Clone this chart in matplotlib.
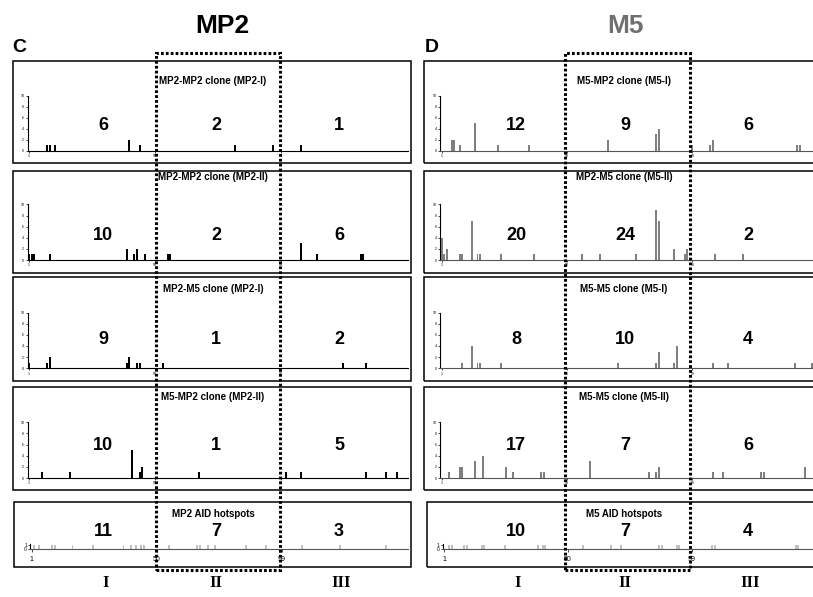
import matplotlib.pyplot as plt
from matplotlib.patches import Rectangle

W, H = 813, 597

# mutation positions (codon) and counts
mp2_i_pos = [8, 9, 11, 40, 44, 81, 96, 107]
mp2_i_cnt = [1, 1, 1, 2, 1, 1, 1, 1]
mp2_ii_pos = [1, 2, 3, 9, 39, 42, 43, 46, 55, 56, 107, 113, 130, 131]
mp2_ii_cnt = [1, 1, 1, 1, 2, 1, 2, 1, 1, 1, 3, 1, 1, 1]
mp2m5_i_pos = [1, 8, 9, 39, 40, 43, 44, 53, 123, 132]
mp2m5_i_cnt = [1, 1, 2, 1, 2, 1, 1, 1, 1, 1]
m5mp2_ii_pos = [6, 17, 41, 44, 45, 67, 101, 107, 132, 140, 144]
m5mp2_ii_cnt = [1, 1, 5, 1, 2, 1, 1, 1, 1, 1, 1]
mp2_hot = [2, 4, 9, 10, 17, 25, 37, 40, 42, 44, 45, 55, 66, 67, 70, 73, 85, 93, 107, 122, 140]

m5_i_pos = [5, 6, 8, 14, 23, 35, 66, 85, 86, 99, 106, 107, 140, 141]
m5_i_cnt = [2, 2, 1, 5, 1, 1, 2, 3, 4, 1, 1, 2, 1, 1]
m5_ii_pos = [1, 2, 3, 8, 9, 13, 15, 16, 24, 37, 56, 63, 77, 85, 86, 92, 96, 97, 108, 119]
m5_ii_cnt = [4, 1, 2, 1, 1, 7, 1, 1, 1, 1, 1, 1, 1, 9, 7, 2, 1, 2, 1, 1]
m5m5_i_pos = [9, 13, 15, 16, 24, 70, 85, 86, 92, 93, 107, 113, 139, 146]
m5m5_i_cnt = [1, 4, 1, 1, 1, 1, 1, 3, 1, 4, 1, 1, 1, 1]
m5m5_ii_pos = [4, 8, 9, 14, 17, 26, 29, 40, 41, 59, 82, 85, 86, 107, 111, 126, 127, 143]
m5m5_ii_cnt = [1, 2, 2, 3, 4, 2, 1, 1, 1, 3, 1, 1, 2, 1, 1, 1, 1, 2]
m5_hot = [3, 4, 9, 10, 16, 17, 25, 38, 40, 41, 56, 67, 71, 86, 87, 93, 94, 107, 108, 140, 141]

# mutation totals per region I / II / III
mp2_totals = [[6, 2, 1], [10, 2, 6], [9, 1, 2], [10, 1, 5], [11, 7, 3]]
m5_totals = [[12, 9, 6], [20, 24, 2], [8, 10, 4], [17, 7, 6], [10, 7, 4]]

mp2_titles = ["MP2-MP2 clone (MP2-I)", "MP2-MP2 clone (MP2-II)", "MP2-M5 clone (MP2-I)",
              "M5-MP2 clone (MP2-II)", "MP2 AID hotspots"]
m5_titles = ["M5-MP2 clone (M5-I)", "MP2-M5 clone (M5-II)", "M5-M5 clone (M5-I)",
             "M5-M5 clone (M5-II)", "M5 AID hotspots"]
regions = ["I", "II", "III"]

plt.rcParams['font.family'] = ['Liberation Sans', 'DejaVu Sans']
fig = plt.figure(figsize=(W / 100, H / 100), dpi=100)


def fx(x):
    return x / W


def fy(y):
    return 1 - y / H


def box(x0, y0, x1, y1, **kw):
    fig.add_artist(Rectangle((fx(x0), fy(y1)), fx(x1) - fx(x0), fy(y0) - fy(y1),
                             transform=fig.transFigure, fill=False, **kw))


def panel(x1, scale, base, top, pos, cnt, color, axcol, hot=False):
    ax = fig.add_axes([fx(x1 - 0.5 * scale), fy(base), 148 * scale / W, (base - top) / H])
    ax.bar(pos, cnt, width=0.78, color=color, linewidth=0)
    ax.set_xlim(0.5, 148.5)
    for s in ['top', 'right']:
        ax.spines[s].set_visible(False)
    ax.spines['left'].set_linewidth(0.8)
    ax.spines['bottom'].set_linewidth(0.8)
    ax.spines['bottom'].set_color(axcol)
    ax.set_xticks([1, 50, 99])
    ax.patch.set_alpha(0)
    if hot:
        ax.set_ylim(0, 1.15)
        ax.set_yticks([0, 1])
        ax.tick_params(axis='x', labelsize=5, length=2, width=0.5, pad=3)
        ax.tick_params(axis='y', labelsize=3.5, length=1.5, width=0.5, pad=1)
    else:
        ax.set_ylim(0, 10)
        ax.set_yticks([0, 2, 4, 6, 8, 10])
        ax.tick_params(labelsize=2.5, length=1.5, width=0.5, pad=1)
    return ax


# panel geometry in pixels: box top/bottom, axis top/baseline, title y, number y
rows = [
    dict(box=(61, 163), top=95.5, base=151, ty=81, ny=125),
    dict(box=(170.5, 273), top=204.5, base=260, ty=177.5, ny=235),
    dict(box=(277, 380.5), top=312.5, base=368.3, ty=288.5, ny=340),
    dict(box=(387, 489.5), top=422.3, base=478, ty=397, ny=446),
    dict(box=(502, 567), top=544, base=549, ty=514, ny=532),
]

left_data = [(mp2_i_pos, mp2_i_cnt), (mp2_ii_pos, mp2_ii_cnt), (mp2m5_i_pos, mp2m5_i_cnt),
             (m5mp2_ii_pos, m5mp2_ii_cnt), (mp2_hot, [1] * len(mp2_hot))]
right_data = [(m5_i_pos, m5_i_cnt), (m5_ii_pos, m5_ii_cnt), (m5m5_i_pos, m5m5_i_cnt),
              (m5m5_ii_pos, m5m5_ii_cnt), (m5_hot, [1] * len(m5_hot))]

for i, r in enumerate(rows):
    hot = i == 4
    y0, y1 = r['box']
    # MP2 column
    box(12.5 if not hot else 14, y0, 411, y1, linewidth=1.1, edgecolor='black')
    x1 = 31.7 if hot else 29
    sc = 2.55 if hot else 2.57
    panel(x1, sc, r['base'], r['top'], left_data[i][0], left_data[i][1],
          '#c0c0c0' if hot else 'black', '#555555' if hot else 'black', hot)
    fig.text(fx(213), fy(r['ty']), mp2_titles[i], ha='center', va='center',
             fontsize=7, fontweight='bold')
    for n, xx in zip(mp2_totals[i], [103, 216, 339]):
        fig.text(fx(xx), fy(r['ny']), str(n), ha='center', va='center',
                 fontsize=13, fontweight='bold')
    # M5 column
    box(424 if not hot else 427, y0, 816, y1, linewidth=1.1, edgecolor='black')
    x1 = 444 if hot else 441.7
    sc = 2.53 if hot else 2.557
    panel(x1, sc, r['base'], r['top'], right_data[i][0], right_data[i][1],
          '#c0c0c0' if hot else '#808080', '#555555', hot)
    fig.text(fx(624), fy(r['ty']), m5_titles[i], ha='center', va='center',
             fontsize=7, fontweight='bold')
    for n, xx in zip(m5_totals[i], [516, 625, 748]):
        fig.text(fx(xx), fy(r['ny']), str(n), ha='center', va='center',
                 fontsize=13, fontweight='bold')

# region boxes (codons 50-99)
dots = dict(linewidth=2.2, edgecolor='black', linestyle=(0, (0.9, 0.7)), zorder=10)
box(155.5, 53, 280, 570, **dots)
box(565, 53, 689.5, 570, **dots)

# headers
fig.text(fx(222.5), fy(26), "MP2", ha='center', va='center', fontsize=19, fontweight='bold')
fig.text(fx(625), fy(26), "M5", ha='center', va='center', fontsize=19, fontweight='bold',
         color='#707070')
fig.text(fx(19), fy(48), "C", ha='center', va='center', fontsize=14, fontweight='bold')
fig.text(fx(432), fy(48), "D", ha='center', va='center', fontsize=14, fontweight='bold')

for lab, xl, xr in zip(regions, [106, 216, 341], [517.5, 624.5, 750]):
    fig.text(fx(xl), fy(583), lab, ha='center', va='center', fontsize=12,
             fontweight='bold', family='Liberation Serif')
    fig.text(fx(xr), fy(583), lab, ha='center', va='center', fontsize=12,
             fontweight='bold', family='Liberation Serif')

fig.savefig("out.png", dpi=100)
